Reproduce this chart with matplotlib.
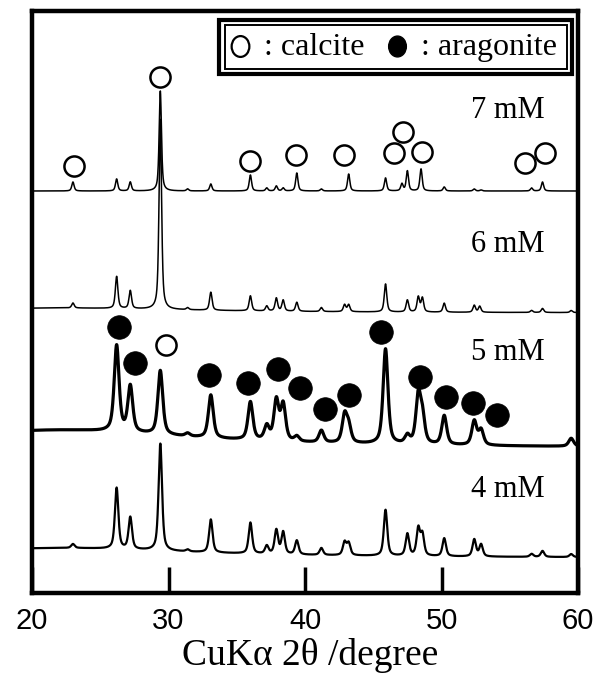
import numpy as np
import matplotlib
matplotlib.use("Agg")
import matplotlib.pyplot as plt
from matplotlib.path import Path
from matplotlib.markers import MarkerStyle
from matplotlib.patches import Rectangle
from matplotlib.transforms import Affine2D

# --- peak lists (2theta in degree, height in arbitrary units) ---
peaks_7mM_pos = [23.0, 26.2, 27.2, 29.4, 31.4, 33.1, 36.0, 37.2, 37.9, 38.4, 39.4, 41.2,
                 43.2, 45.9, 47.1, 47.5, 48.5, 50.2, 52.4, 52.9, 56.6, 57.4]
peaks_7mM_h = [9, 12, 9, 100, 2, 7, 16, 3, 5, 3, 18, 2,
               17, 13, 7, 20, 22, 4, 2, 1, 3, 9]

peaks_6mM_pos = [23.0, 26.2, 27.2, 29.4, 31.4, 33.1, 36.0, 37.2, 37.9, 38.4, 39.4, 41.2,
                 42.9, 43.2, 45.9, 47.5, 48.3, 48.6, 50.2, 52.4, 52.8, 56.6, 57.4, 59.5]
peaks_6mM_h = [5, 32, 18, 190, 2, 18, 15, 5, 13, 11, 9, 4,
               7, 7, 28, 12, 15, 14, 9, 7, 6, 2, 4, 2]

peaks_5mM_pos = [26.2, 27.2, 29.4, 31.4, 33.1, 36.0, 37.2, 37.9, 38.4, 39.4, 41.2, 42.9,
                 43.2, 45.9, 47.5, 48.3, 48.6, 50.2, 52.4, 52.9, 59.5]
peaks_5mM_h = [86, 46, 64, 3, 43, 38, 14, 40, 36, 5, 12, 27,
               16, 95, 8, 47, 26, 29, 24, 15, 8]

peaks_4mM_pos = [23.0, 26.2, 27.2, 29.4, 31.4, 33.1, 36.0, 37.2, 37.9, 38.4, 39.4, 41.2,
                 42.9, 43.2, 45.9, 47.5, 48.3, 48.6, 50.2, 52.4, 52.9, 56.6, 57.4, 59.5]
peaks_4mM_h = [4, 61, 32, 107, 2, 33, 31, 8, 24, 22, 14, 7,
               13, 12, 46, 22, 27, 21, 18, 17, 12, 3, 6, 3]

# stacking offsets, amorphous halo heights and peak half widths per pattern
labels = ["7 mM", "6 mM", "5 mM", "4 mM"]
offsets = [402, 280, 145, 35]
halo_h = [0, 5, 18, 10]
hwhm = [0.1, 0.11, 0.21, 0.15]
line_w = [1.1, 1.1, 2.3, 1.6]
label_y = [475, 341, 233, 96]

# marker positions (degree, height)
calcite_x = [23.1, 29.4, 35.95, 39.35, 42.85, 46.55, 47.15, 48.55, 56.1, 57.6]
calcite_y = [427, 516, 432, 438, 438, 440, 461, 441, 430, 440]
calcite5_x = [29.85]
calcite5_y = [248]
arag_x = [26.4, 27.55, 33.0, 35.8, 38.0, 39.65, 41.5, 43.25, 45.6, 48.45, 50.3, 52.3, 54.1]
arag_y = [266, 230, 218, 210, 224, 205, 184, 198, 261, 216, 196, 190, 178]

two_theta = np.linspace(20, 60, 6001)


def profile(pos, h, w, base, halo):
    y = np.full_like(two_theta, float(base))
    y += halo / (1 + ((two_theta - 22.0) / 12.0) ** 2)
    for c, a in zip(pos, h):
        d = (two_theta - c) / w
        y += a * (0.6 / (1 + d ** 2) + 0.4 * np.exp(-np.log(2) * d ** 2))
    return y


fig = plt.figure(figsize=(6.14, 6.79), dpi=100)
ax = fig.add_axes([32 / 614, 86 / 679, 546 / 614, 582 / 679])

series = [(peaks_7mM_pos, peaks_7mM_h), (peaks_6mM_pos, peaks_6mM_h),
          (peaks_5mM_pos, peaks_5mM_h), (peaks_4mM_pos, peaks_4mM_h)]
for i, (pos, h) in enumerate(series):
    ax.plot(two_theta, profile(pos, h, hwhm[i], offsets[i], halo_h[i]),
            color="black", lw=line_w[i], solid_joinstyle="round")
    ax.text(52.15, label_y[i], labels[i], fontsize=22, family="Liberation Serif",
            ha="left", va="baseline")

tall = MarkerStyle(Path.unit_circle().transformed(Affine2D().scale(0.85, 1.0)))

ax.plot(calcite_x, calcite_y, ls="none", marker="o", ms=14.5, mfc="white",
        mec="black", mew=1.8, zorder=5)
ax.plot(calcite5_x, calcite5_y, ls="none", marker="o", ms=14.5, mfc="white",
        mec="black", mew=1.8, zorder=5)
ax.plot(arag_x, arag_y, ls="none", marker="o", ms=17, mfc="black",
        mec="black", mew=0.5, zorder=5)

# legend box with a double frame
ax.add_patch(Rectangle((0.3425, 0.891), 0.6465, 0.0935, transform=ax.transAxes,
                       fill=True, facecolor="white", edgecolor="black", lw=3.0, zorder=6))
ax.add_patch(Rectangle((0.3526, 0.9012), 0.6264, 0.0756, transform=ax.transAxes,
                       fill=False, edgecolor="black", lw=1.4, zorder=7))
ax.plot([0.381], [0.940], transform=ax.transAxes, ls="none", marker=tall, ms=15,
        mfc="white", mec="black", mew=1.6, zorder=8)
ax.plot([0.668], [0.940], transform=ax.transAxes, ls="none", marker=tall, ms=15,
        mfc="black", mec="black", zorder=8)
ax.text(0.410, 0.938, " : calcite", transform=ax.transAxes, fontsize=23,
        family="Liberation Serif", ha="left", va="center", zorder=8)
ax.text(0.697, 0.938, " : aragonite", transform=ax.transAxes, fontsize=23,
        family="Liberation Serif", ha="left", va="center", zorder=8)

ax.set_xlim(20, 60)
ax.set_ylim(0, 582)
ax.set_yticks([])
ax.set_xticks([20, 30, 40, 50, 60])
ax.tick_params(axis="x", direction="in", length=19, width=2.5, pad=10, labelsize=21)
for lab in ax.get_xticklabels():
    lab.set_family("Liberation Sans")
for sp in ax.spines.values():
    sp.set_linewidth(3.2)

fig.text(0.505, 14 / 679, "CuK\u03b1 2\u03b8 /degree", fontsize=27,
         family="Liberation Serif", ha="center", va="baseline")

fig.savefig("out.png", dpi=100)
